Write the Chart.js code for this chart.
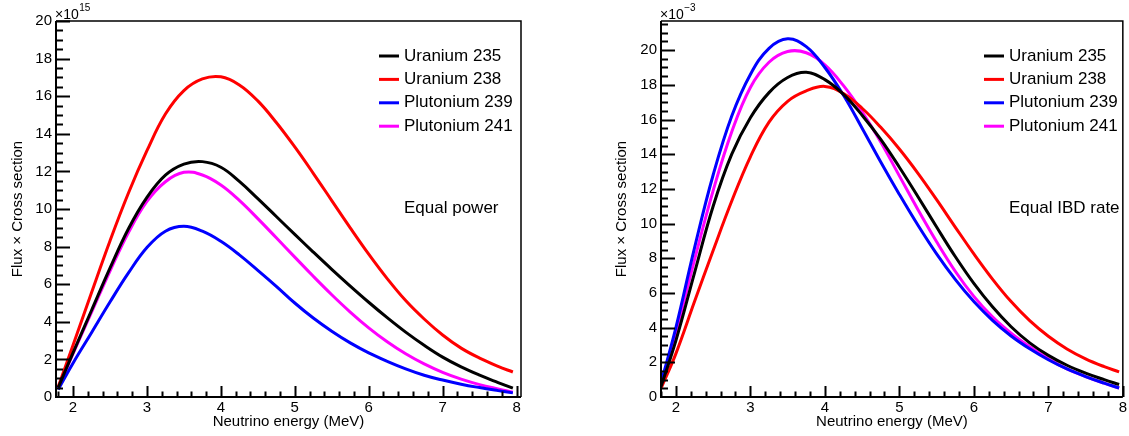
<!DOCTYPE html>
<html>
<head>
<meta charset="utf-8">
<title>Flux x Cross section</title>
<script src="https://cdn.jsdelivr.net/npm/chart.js@4"></script>
<style>
  body { margin: 0; background: #fff; }
  #wrap { position: relative; width: 1129px; height: 436px; }
  .box { position: absolute; top: 0; height: 436px; }
  #left { left: 0; width: 565px; }
  #right { left: 565px; width: 564px; }
</style>
</head>
<body>
<div id="wrap">
  <div class="box" id="left"><canvas id="powerChart"></canvas></div>
  <div class="box" id="right"><canvas id="ibdChart"></canvas></div>
</div>
<script>
// neutrino energy (MeV)
const energies = [1.8, 2.0, 2.25, 2.5, 2.75, 3.0, 3.25, 3.5, 3.75, 4.0, 4.25, 4.5, 4.75,
                  5.0, 5.25, 5.5, 5.75, 6.0, 6.25, 6.5, 6.75, 7.0, 7.25, 7.5, 7.75, 7.95];

const seriesNames = ['Uranium 235', 'Uranium 238', 'Plutonium 239', 'Plutonium 241'];
const seriesColors = ['#000000', '#ff0000', '#0000ff', '#ff00ff'];

// equal power, units of 1e15
const powerU235 = [0.5, 2.35, 4.6, 6.85, 8.95, 10.62, 11.8, 12.39, 12.52, 12.22, 11.47, 10.55, 9.6,
                   8.65, 7.71, 6.79, 5.9, 5.04, 4.22, 3.45, 2.75, 2.12, 1.6, 1.16, 0.77, 0.47];
const powerU238 = [0.55, 2.75, 5.55, 8.3, 10.85, 13.1, 15.05, 16.3, 16.92, 17.03, 16.6, 15.75, 14.6,
                   13.3, 11.9, 10.45, 9.0, 7.6, 6.3, 5.13, 4.15, 3.3, 2.6, 2.07, 1.63, 1.33];
const powerPu239 = [0.4, 1.8, 3.42, 5.05, 6.6, 7.95, 8.82, 9.08, 8.82, 8.28, 7.56, 6.74, 5.89,
                    5.0, 4.2, 3.5, 2.88, 2.35, 1.9, 1.5, 1.16, 0.9, 0.68, 0.5, 0.34, 0.22];
const powerPu241 = [0.45, 2.3, 4.5, 6.7, 8.75, 10.4, 11.45, 11.95, 11.81, 11.28, 10.46, 9.49, 8.47,
                    7.44, 6.42, 5.44, 4.52, 3.68, 2.94, 2.3, 1.76, 1.31, 0.95, 0.66, 0.43, 0.26];

// equal IBD rate, units of 1e-3
const ibdU235 = [0.6, 3.25, 7.16, 11.0, 14.0, 16.1, 17.55, 18.42, 18.72, 18.3, 17.45, 16.25, 14.85,
                 13.25, 11.55, 9.8, 8.1, 6.55, 5.2, 4.05, 3.12, 2.4, 1.83, 1.38, 1.0, 0.72];
const ibdU238 = [0.5, 2.5, 5.5, 8.45, 11.3, 13.85, 15.85, 17.05, 17.65, 17.91, 17.5, 16.65, 15.55,
                 14.3, 12.9, 11.38, 9.8, 8.25, 6.8, 5.5, 4.4, 3.5, 2.77, 2.2, 1.75, 1.45];
const ibdPu239 = [0.82, 4.0, 8.6, 12.8, 16.2, 18.6, 20.1, 20.65, 20.2, 19.0, 17.4, 15.5, 13.55,
                  11.68, 9.9, 8.25, 6.78, 5.5, 4.42, 3.52, 2.78, 2.15, 1.62, 1.18, 0.8, 0.52];
const ibdPu241 = [0.7, 3.7, 7.9, 11.9, 15.3, 17.85, 19.3, 19.92, 19.85, 19.15, 17.95, 16.45, 14.7,
                  12.75, 10.8, 8.95, 7.25, 5.8, 4.62, 3.68, 2.9, 2.2, 1.62, 1.18, 0.8, 0.52];

const xTicks = [2, 3, 4, 5, 6, 7, 8];
const yTicks = [0, 2, 4, 6, 8, 10, 12, 14, 16, 18, 20];

const FONT = '"Liberation Sans", Arial, Helvetica, sans-serif';

// ROOT-like frame: box, inward tick marks, axis multiplier, legend and note
const rootFrame = {
    id: 'rootFrame',
    afterDraw(chart, args, opts) {
        const {ctx, chartArea: a, scales: {x, y}} = chart;
        ctx.save();
        ctx.strokeStyle = '#000';
        ctx.lineWidth = 2;
        ctx.beginPath();
        // x ticks, minor every 0.2
        const x0 = Math.ceil(x.min / opts.xMinor - 1e-6);
        const x1 = Math.floor(x.max / opts.xMinor + 1e-6);
        for (let i = x0; i <= x1; i++) {
            const v = i * opts.xMinor;
            const major = Math.abs(v - Math.round(v)) < 1e-6;
            const px = Math.round(x.getPixelForValue(v)) + 0.5;
            ctx.moveTo(px, a.bottom);
            ctx.lineTo(px, a.bottom - (major ? 11 : 5.5));
        }
        // y ticks, minor every 0.5
        const y1 = Math.floor(y.max / 0.5 + 1e-6);
        for (let i = 1; i <= y1; i++) {
            const major = i % 4 === 0;
            const py = Math.round(y.getPixelForValue(i * 0.5)) + 0.5;
            ctx.moveTo(a.left, py);
            ctx.lineTo(a.left + (major ? 14 : 7), py);
        }
        ctx.stroke();
        // frame
        ctx.beginPath();
        ctx.moveTo(a.left, a.top);
        ctx.lineTo(a.left, a.bottom);
        ctx.lineTo(a.right, a.bottom);
        ctx.stroke();
        ctx.lineWidth = 1.5;
        ctx.beginPath();
        ctx.moveTo(a.left, a.top);
        ctx.lineTo(a.right, a.top);
        ctx.lineTo(a.right, a.bottom);
        ctx.stroke();

        // multiplier above the y axis
        ctx.fillStyle = '#000';
        ctx.textBaseline = 'alphabetic';
        ctx.textAlign = 'left';
        ctx.font = '14px ' + FONT;
        const base = '\u00d710';
        ctx.fillText(base, a.left - 1, a.top - 2);
        const w = ctx.measureText(base).width;
        ctx.font = '10px ' + FONT;
        ctx.fillText(opts.exponent, a.left - 1 + w + 0.5, a.top - 10);

        // legend
        ctx.font = '17px ' + FONT;
        ctx.textBaseline = 'middle';
        chart.data.datasets.forEach((ds, i) => {
            const ry = opts.legendTop + i * opts.legendRow;
            ctx.strokeStyle = ds.borderColor;
            ctx.lineWidth = 3;
            ctx.beginPath();
            ctx.moveTo(opts.legendLeft, ry);
            ctx.lineTo(opts.legendLeft + 20, ry);
            ctx.stroke();
            ctx.fillStyle = '#000';
            ctx.fillText(ds.label, opts.legendLeft + 25, ry);
        });
        ctx.fillText(opts.note, opts.legendLeft + 25, opts.noteY);
        ctx.restore();
    }
};

function makeDatasets(arrays) {
    return arrays.map((arr, i) => ({
        label: seriesNames[i],
        data: energies.map((e, j) => ({x: e, y: arr[j]})),
        borderColor: seriesColors[i],
        borderWidth: 3,
        pointRadius: 0,
        fill: false,
        tension: 0.4
    }));
}

function makeChart(canvasId, arrays, cfg) {
    const ctx = document.getElementById(canvasId).getContext('2d');
    return new Chart(ctx, {
        type: 'line',
        data: { datasets: makeDatasets(arrays) },
        options: {
            responsive: true,
            maintainAspectRatio: false,
            animation: false,
            layout: { padding: { top: 21, right: cfg.rightPad, bottom: 0, left: 0 } },
            plugins: {
                legend: { display: false },
                tooltip: { enabled: false },
                rootFrame: {
                    xMinor: 0.2,
                    exponent: cfg.exponent,
                    legendLeft: cfg.legendLeft,
                    legendTop: 56,
                    legendRow: 23.4,
                    note: cfg.note,
                    noteY: 208
                }
            },
            scales: {
                x: {
                    type: 'linear',
                    min: cfg.xMin,
                    max: cfg.xMax,
                    afterBuildTicks: s => { s.ticks = xTicks.map(v => ({value: v})); },
                    afterFit: s => { s.height = 39; },
                    grid: { display: false, drawTicks: false },
                    border: { display: false },
                    ticks: { font: { family: FONT, size: 15 }, color: '#000', padding: 2, maxRotation: 0, autoSkip: false },
                    title: {
                        display: true,
                        text: 'Neutrino energy (MeV)',
                        font: { family: FONT, size: 15 },
                        color: '#000',
                        padding: { top: 0, bottom: 5 }
                    }
                },
                y: {
                    type: 'linear',
                    min: 0,
                    max: cfg.yMax,
                    afterBuildTicks: s => { s.ticks = yTicks.map(v => ({value: v})); },
                    afterFit: s => { s.width = cfg.yWidth; },
                    grid: { display: false, drawTicks: false },
                    border: { display: false },
                    ticks: { font: { family: FONT, size: 15 }, color: '#000', padding: 4 },
                    title: {
                        display: true,
                        text: 'Flux \u00d7 Cross section',
                        font: { family: FONT, size: 15 },
                        color: '#000',
                        padding: { top: cfg.titlePad, bottom: 0 }
                    }
                }
            }
        },
        plugins: [rootFrame]
    });
}

makeChart('powerChart', [powerU235, powerU238, powerPu239, powerPu241], {
    xMin: 1.77, xMax: 8.06, yMax: 20, yWidth: 56, titlePad: 8.5, rightPad: 44,
    exponent: '15', legendLeft: 379, note: 'Equal power'
});

makeChart('ibdChart', [ibdU235, ibdU238, ibdPu239, ibdPu241], {
    xMin: 1.8, xMax: 8.0, yMax: 21.68, yWidth: 96, titlePad: 48, rightPad: 5,
    exponent: '\u22123', legendLeft: 419, note: 'Equal IBD rate'
});
</script>
</body>
</html>
